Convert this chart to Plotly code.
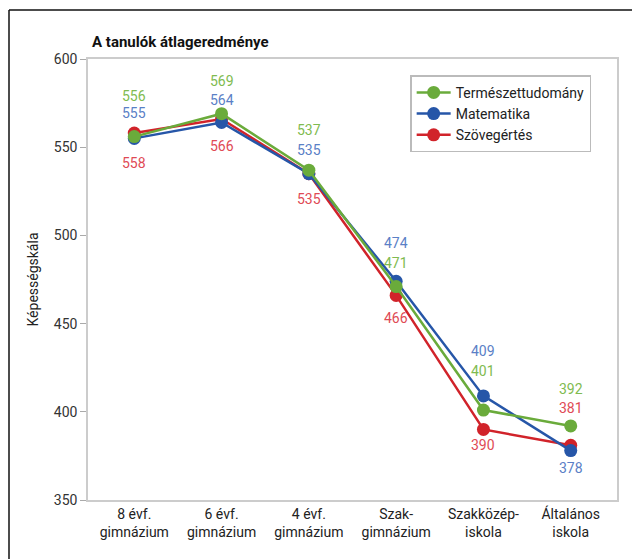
import plotly.graph_objects as go

categories = ["8 évf.<br>gimnázium", "6 évf.<br>gimnázium", "4 évf.<br>gimnázium",
              "Szak-<br>gimnázium", "Szakközép-<br>iskola", "Általános<br>iskola"]
termeszettudomany = [556, 569, 537, 471, 401, 392]
matematika = [555, 564, 535, 474, 409, 378]
szovegertes = [558, 566, 535, 466, 390, 381]

FONT = "Liberation Sans Narrow, Roboto, Arial"

# label pixel offsets (style only)
shifts = {
    "Természettudomány": [41, 33, 40, 24, 39, 37],
    "Matematika": [25, 23, 24, 38, 45, -17],
    "Szövegértés": [-30, -27, -25, -23, -16, 37],
}

series = [
    ("Szövegértés", szovegertes, "#d1232a", "#e04a55"),
    ("Matematika", matematika, "#2656a8", "#5a80c6"),
    ("Természettudomány", termeszettudomany, "#6aab3b", "#7fbb50"),
]

fig = go.Figure()
annotations = []
for name, vals, col, lcol in series:
    fig.add_trace(go.Scatter(
        x=list(range(len(categories))), y=vals, name=name, mode="lines+markers",
        line=dict(color=col, width=2.5), marker=dict(color=col, size=13),
    ))
    for i, v in enumerate(vals):
        annotations.append(dict(x=i, y=v, xref="x", yref="y", text=str(v), showarrow=False,
                                yshift=shifts[name][i], font=dict(family=FONT, size=14, color=lcol)))

annotations.append(dict(x=0.0, y=1.0, xref="paper", yref="paper", xanchor="left", yanchor="bottom",
                        yshift=6, xshift=2, text="<b>A tanulók átlageredménye</b>", showarrow=False,
                        font=dict(family=FONT, size=15, color="#111")))

fx0 = -79.0 / 529
fy1 = 1 + 49.0 / 441
fig.update_layout(
    width=632, height=551,
    margin=dict(l=80, r=23, t=51, b=59, autoexpand=False),
    paper_bgcolor="white", plot_bgcolor="white",
    font=dict(family=FONT, size=14, color="#333"),
    showlegend=True,
    legend=dict(x=0.609, y=0.963, xanchor="left", yanchor="top", traceorder="reversed",
                bordercolor="#bbbbbb", borderwidth=1.5, bgcolor="white",
                font=dict(family=FONT, size=14, color="#222"), itemwidth=34),
    annotations=annotations,
    shapes=[
        dict(type="line", xref="paper", yref="paper", x0=fx0, y0=-0.2, x1=fx0, y1=fy1,
             line=dict(color="#111", width=1.5), layer="below"),
        dict(type="line", xref="paper", yref="paper", x0=fx0, y0=fy1, x1=1.06, y1=fy1,
             line=dict(color="#111", width=1.5), layer="below"),
    ],
)
fig.update_xaxes(range=[-0.53, 5.53], tickmode="array", tickvals=list(range(len(categories))),
                 ticktext=categories, showgrid=False, zeroline=False,
                 showline=True, linecolor="#cccccc", linewidth=1.5, mirror=True, ticks="",
                 tickfont=dict(family=FONT, size=14, color="#222"))
fig.update_yaxes(range=[350, 600], dtick=50, showgrid=False, zeroline=False,
                 showline=True, linecolor="#cccccc", linewidth=1.5, mirror=True,
                 ticks="outside", ticklen=6, tickcolor="#aaaaaa",
                 title=dict(text="Képességskála", font=dict(family=FONT, size=14, color="#222"), standoff=12),
                 tickfont=dict(family=FONT, size=14, color="#333"))

fig.write_html("out.html")
